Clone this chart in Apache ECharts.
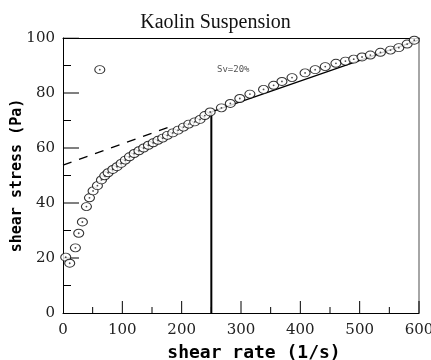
<!DOCTYPE html>
<html>
<head>
<meta charset="utf-8">
<script src="https://cdn.jsdelivr.net/npm/echarts@6/dist/echarts.min.js"></script>
<style>
  html, body { margin: 0; padding: 0; background: #fff; }
  #chart { width: 431px; height: 360px; }
</style>
</head>
<body>
<div id="chart"></div>
<script>
// measured points, shear rate (1/s) vs shear stress (Pa)
const shearRate = [4.6, 11.3, 20.9, 26.5, 32.7, 39.5, 44.6, 50.7, 58, 62, 64.8, 70.4, 76, 84, 91, 98,
  105, 112, 120, 128, 136, 144, 152, 160, 168, 176, 185, 194, 203, 212, 222, 231, 239, 248,
  267, 282, 298, 315, 338, 355, 369, 386, 408, 425, 442, 460, 476, 490, 504, 518, 535, 552, 566, 580, 592];
const shearStress = [20.3, 18.1, 23.7, 29.0, 33.1, 38.7, 41.9, 44.4, 46.3, 88.5, 48.4, 49.9, 51.0, 52.2, 53.2, 54.4,
  55.6, 56.8, 58.0, 59.0, 60.0, 61.0, 61.9, 62.8, 63.6, 64.6, 65.5, 66.5, 67.6, 68.7, 69.5, 70.4, 71.8, 73.1,
  74.6, 76.2, 78.0, 79.6, 81.3, 82.8, 84.2, 85.6, 87.3, 88.5, 89.6, 90.8, 91.6, 92.3, 93.1, 93.8, 94.8, 95.6, 96.5, 97.8, 99.2];

// fitted line (solid) and its extension (dashed)
const fitX = [250, 600];
const fitY = [73.1, 99.3];
const tangentX = [0, 180];
const tangentY = [53.8, 67.7];
// vertical marker at the transition rate
const markX = [250, 250];
const markY = [0, 73.1];

const xMin = 0, xMax = 600, xStep = 100;
const yMin = 0, yMax = 100, yStep = 20;
// tick positions (drawn inward)
const xMajorTicks = [100, 200, 300, 400, 500, 600];
const xMinorTicks = [50, 150, 250, 350, 450, 550];
const yMajorTicks = [20, 40, 60, 80, 100];
const yMinorTicks = [10, 30, 50, 70, 90];

const W = 431, H = 360;
const gridL = 63, gridR = 12, gridT = 38, gridB = 47;
// data units per pixel, so tick lengths can be given in px
const xPerPx = (xMax - xMin) / (W - gridL - gridR);
const yPerPx = (yMax - yMin) / (H - gridT - gridB);

const zip = (a, b) => a.map((v, i) => [v, b[i]]);

// short segments separated by gaps
const xTickSegs = (ticks, len) => {
  const out = [];
  ticks.forEach((v) => out.push([v, yMin], [v, yMin + len * yPerPx], ["-", "-"]));
  return out;
};
const yTickSegs = (ticks, len) => {
  const out = [];
  ticks.forEach((v) => out.push([xMin, v], [xMin + len * xPerPx, v], ["-", "-"]));
  return out;
};
const tickLine = (data) => ({
  type: "line",
  data: data,
  symbol: "none",
  connectNulls: false,
  silent: true,
  lineStyle: { color: "#000", width: 1 },
  z: 2,
});

const chart = echarts.init(document.getElementById("chart"));
chart.setOption({
  backgroundColor: "#fff",
  animation: false,
  title: {
    text: "Kaolin Suspension",
    left: "center",
    top: 8,
    textStyle: { fontFamily: "Liberation Serif", fontSize: 20, fontWeight: "normal", color: "#111" },
  },
  grid: { left: gridL, right: gridR, top: gridT, bottom: gridB, outerBoundsMode: "none", containLabel: false },
  xAxis: [
    {
      type: "value",
      min: xMin,
      max: xMax,
      interval: xStep,
      name: "shear rate (1/s)",
      nameLocation: "middle",
      nameGap: 31,
      nameMoveOverlap: false,
      nameTextStyle: {
        fontFamily: "DejaVu Sans Mono", fontWeight: "bold", fontSize: 18, color: "#000",
        padding: [0, 0, 0, 26],
      },
      axisLine: { show: true, onZero: false, lineStyle: { color: "#000", width: 1 } },
      axisTick: { show: false },
      axisLabel: { fontFamily: "DejaVu Serif", fontSize: 15, color: "#222", margin: 10 },
      splitLine: { show: false },
    },
    {
      type: "value",
      position: "top",
      min: xMin,
      max: xMax,
      axisLine: { show: true, onZero: false, lineStyle: { color: "#000", width: 1 } },
      axisTick: { show: false },
      axisLabel: { show: false },
      splitLine: { show: false },
    },
  ],
  yAxis: [
    {
      type: "value",
      min: yMin,
      max: yMax,
      interval: yStep,
      name: "shear stress (Pa)",
      nameLocation: "middle",
      nameGap: 38,
      nameMoveOverlap: false,
      nameTextStyle: { fontFamily: "DejaVu Sans Mono", fontWeight: "bold", fontSize: 15, color: "#000" },
      axisLine: { show: true, onZero: false, lineStyle: { color: "#000", width: 1 } },
      axisTick: { show: false },
      axisLabel: { fontFamily: "DejaVu Serif", fontSize: 15, color: "#222", margin: 8 },
      splitLine: { show: false },
    },
    {
      type: "value",
      position: "right",
      min: yMin,
      max: yMax,
      axisLine: { show: true, onZero: false, lineStyle: { color: "#888", width: 1.5 } },
      axisTick: { show: false },
      axisLabel: { show: false },
      splitLine: { show: false },
    },
  ],
  graphic: [
    {
      type: "text",
      left: 217,
      top: 65,
      style: { text: "Sv=20%", fontFamily: "DejaVu Sans Mono", fontSize: 9, fill: "#555" },
    },
  ],
  series: [
    tickLine(xTickSegs(xMajorTicks, 12)),
    tickLine(xTickSegs(xMinorTicks, 6)),
    tickLine(yTickSegs(yMajorTicks, 16)),
    tickLine(yTickSegs(yMinorTicks, 8)),
    {
      type: "line",
      data: zip(tangentX, tangentY),
      symbol: "none",
      lineStyle: { color: "#000", width: 1.3, type: [9, 8] },
      z: 1,
    },
    {
      type: "line",
      data: zip(fitX, fitY),
      symbol: "none",
      lineStyle: { color: "#000", width: 1.3 },
      z: 1,
    },
    {
      type: "line",
      data: zip(markX, markY),
      symbol: "none",
      lineStyle: { color: "#000", width: 2 },
      z: 1,
    },
    {
      type: "scatter",
      data: zip(shearRate, shearStress),
      symbol: "circle",
      symbolSize: [10, 8],
      itemStyle: { color: "#fff", borderColor: "#000", borderWidth: 1 },
      z: 3,
    },
    {
      type: "scatter",
      data: zip(shearRate, shearStress),
      symbol: "circle",
      symbolSize: 1.8,
      itemStyle: { color: "#222" },
      z: 4,
    },
  ],
});
</script>
</body>
</html>
